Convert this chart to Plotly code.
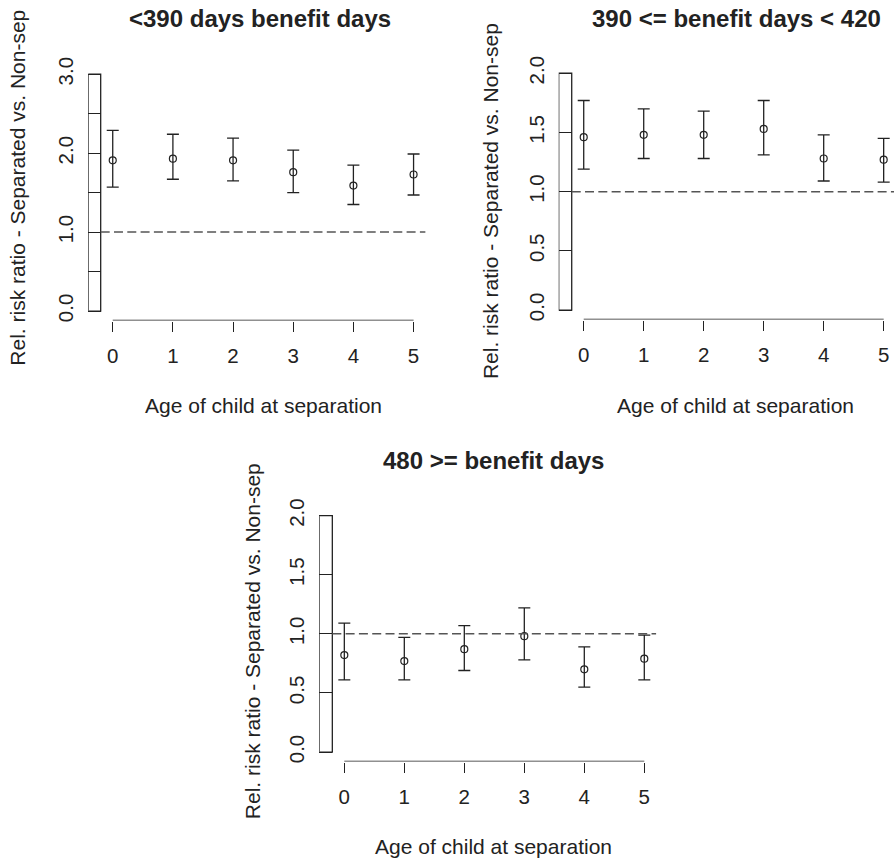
import plotly.graph_objects as go

# ---------------- data ----------------
ages = [0, 1, 2, 3, 4, 5]
age_ticks = ["0", "1", "2", "3", "4", "5"]

rr_lt390 = [1.91, 1.93, 1.91, 1.76, 1.59, 1.73]
lo_lt390 = [1.57, 1.67, 1.65, 1.50, 1.35, 1.47]
hi_lt390 = [2.29, 2.24, 2.19, 2.04, 1.85, 1.99]

rr_390_420 = [1.46, 1.48, 1.48, 1.53, 1.28, 1.27]
lo_390_420 = [1.19, 1.28, 1.28, 1.31, 1.09, 1.08]
hi_390_420 = [1.77, 1.70, 1.68, 1.77, 1.48, 1.45]

rr_ge480 = [0.82, 0.77, 0.87, 0.98, 0.70, 0.79]
lo_ge480 = [0.61, 0.61, 0.69, 0.78, 0.55, 0.61]
hi_ge480 = [1.09, 0.97, 1.07, 1.22, 0.89, 0.99]

yticks_p1 = [0.0, 0.5, 1.0, 1.5, 2.0, 2.5, 3.0]
ylabels_p1 = ["0.0", "", "1.0", "", "2.0", "", "3.0"]
yticks_p23 = [0.0, 0.5, 1.0, 1.5, 2.0]
ylabels_p23 = ["0.0", "0.5", "1.0", "1.5", "2.0"]

titles = ["<390 days benefit days", "390 <= benefit days < 420", "480 >= benefit days"]
xtitle = "Age of child at separation"
ytitle = "Rel. risk ratio - Separated vs. Non-sep"
ref_value = 1.0

# ---------------- layout geometry (pixels) ----------------
W, H = 894, 859
FONT = "Liberation Sans, Arial, Helvetica, sans-serif"
INK = "#222222"


def px_x(p):
    return p / W


def px_y(p):
    return 1 - p / H


panels = [
    dict(vals=rr_lt390, lo=lo_lt390, hi=hi_lt390, xr=[-0.406, 5.2], yr=[-0.12, 3.12],
         dom_x=(88.3, 425.6), dom_y=(64.8, 320.5), ytv=yticks_p1, ytt=ylabels_p1, ytop=3.0,
         title_xy=(260, 19), xt_xy=(263, 405.7), yt_xy=(16.7, 188), dash_x1=5.2),
    dict(vals=rr_390_420, lo=lo_390_420, hi=hi_390_420, xr=[-0.417, 5.172], yr=[-0.08, 2.08],
         dom_x=(558.7, 894), dom_y=(63.8, 319.5), ytv=yticks_p23, ytt=ylabels_p23, ytop=2.0,
         title_xy=(736, 19), xt_xy=(735, 405.7), yt_xy=(490.3, 200.8), dash_x1=5.172),
    dict(vals=rr_ge480, lo=lo_ge480, hi=hi_ge480, xr=[-0.417, 5.2], yr=[-0.08, 2.08],
         dom_x=(319.3, 656.3), dom_y=(506.2, 761.5), ytv=yticks_p23, ytt=ylabels_p23, ytop=2.0,
         title_xy=(493, 460.7), xt_xy=(493, 846.7), yt_xy=(252.5, 641.7), dash_x1=5.2),
]

fig = go.Figure()
shapes = []
annotations = []

for i, p in enumerate(panels):
    n = "" if i == 0 else str(i + 1)
    xa, ya = "x" + n, "y" + n
    plus = [h - v for h, v in zip(p["hi"], p["vals"])]
    minus = [v - l for v, l in zip(p["vals"], p["lo"])]
    fig.add_trace(go.Scatter(
        x=ages, y=p["vals"], mode="markers", xaxis=xa, yaxis=ya, showlegend=False,
        marker=dict(symbol="circle-open", size=7, color=INK, line=dict(width=1.2, color=INK)),
        error_y=dict(type="data", symmetric=False, array=plus, arrayminus=minus,
                     width=6, thickness=1.3, color=INK),
    ))
    axis_x = dict(
        domain=[px_x(p["dom_x"][0]), px_x(p["dom_x"][1])], range=p["xr"], anchor=ya,
        automargin=False,
        showgrid=False, zeroline=False, showline=False,
        tickmode="array", tickvals=ages, ticktext=age_ticks,
        ticks="outside", ticklen=10, tickwidth=1.3, tickcolor=INK,
        ticklabelstandoff=7,
        tickfont=dict(family=FONT, size=20.5, color=INK),
    )
    axis_y = dict(
        domain=[px_y(p["dom_y"][1]), px_y(p["dom_y"][0])], range=p["yr"], anchor=xa,
        automargin=False,
        showgrid=False, zeroline=False, showline=False,
        tickmode="array", tickvals=p["ytv"], ticktext=p["ytt"],
        ticks="inside", ticklen=13, tickwidth=1.3, tickcolor=INK,
        tickangle=-90, ticklabelstandoff=10,
        tickfont=dict(family=FONT, size=20.5, color=INK),
    )
    fig.update_layout(**{"xaxis" + n: axis_x, "yaxis" + n: axis_y})

    # box forming the y axis
    shapes.append(dict(type="rect", xref=xa, yref=ya, x0=p["xr"][0], x1=-0.2, y0=0, y1=p["ytop"],
                       line=dict(color=INK, width=1.3), fillcolor="rgba(0,0,0,0)", layer="above"))
    # x axis line
    shapes.append(dict(type="line", xref=xa, yref=ya, x0=ages[0], x1=ages[-1], y0=p["yr"][0], y1=p["yr"][0],
                       line=dict(color=INK, width=1.3)))
    # reference line
    shapes.append(dict(type="line", xref=xa, yref=ya, x0=-0.2, x1=p["dash_x1"], y0=ref_value, y1=ref_value,
                       line=dict(color="#555555", width=1.5, dash="9px,4.3px")))

    annotations.append(dict(text="<b>%s</b>" % titles[i], xref="paper", yref="paper",
                            x=px_x(p["title_xy"][0]), y=px_y(p["title_xy"][1]),
                            xanchor="center", yanchor="middle", showarrow=False,
                            font=dict(family=FONT, size=24, color=INK)))
    annotations.append(dict(text=xtitle, xref="paper", yref="paper",
                            x=px_x(p["xt_xy"][0]), y=px_y(p["xt_xy"][1]),
                            xanchor="center", yanchor="middle", showarrow=False,
                            font=dict(family=FONT, size=21, color=INK)))
    annotations.append(dict(text=ytitle, xref="paper", yref="paper", textangle=-90,
                            x=px_x(p["yt_xy"][0]), y=px_y(p["yt_xy"][1]),
                            xanchor="center", yanchor="middle", showarrow=False,
                            font=dict(family=FONT, size=21, color=INK)))

fig.update_layout(
    width=W, height=H, margin=dict(l=0, r=0, t=0, b=0, autoexpand=False),
    paper_bgcolor="white", plot_bgcolor="white",
    shapes=shapes, annotations=annotations, showlegend=False,
)

fig.write_html(
    "out.html",
    config={"displayModeBar": False},
    post_script="document.body.style.margin='0';document.body.style.overflow='hidden';",
)
